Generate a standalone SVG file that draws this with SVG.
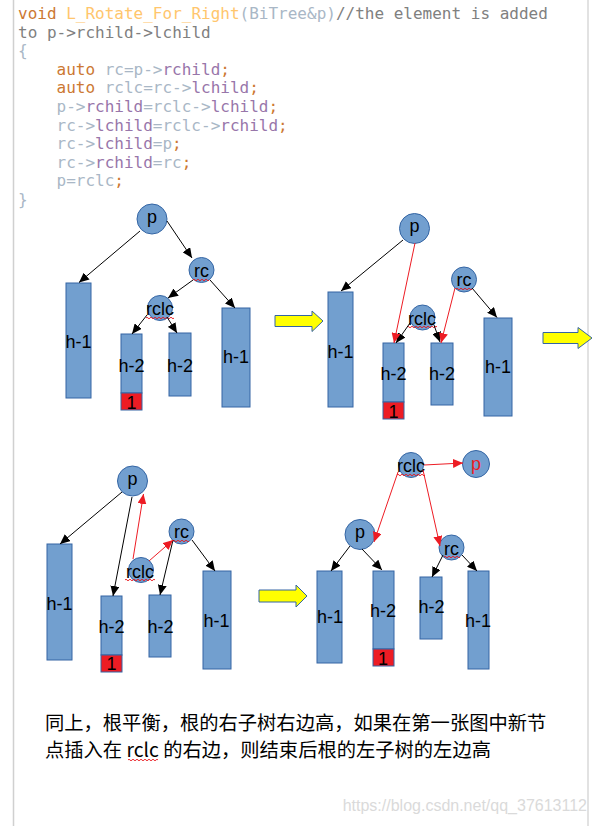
<svg xmlns="http://www.w3.org/2000/svg" width="597" height="826" viewBox="0 0 597 826">
<style>
.n{fill:#729fcf;stroke:#3465a4;stroke-width:1}
.rb{fill:#ed1c24;stroke:#3465a4;stroke-width:1}
.lbl{font-family:"Liberation Sans",Arial,sans-serif;font-size:18px;text-anchor:middle;fill:#000}
.e{stroke:#000;stroke-width:1;fill:none;marker-end:url(#ab)}
.er{stroke:#ed1c24;stroke-width:1;fill:none;marker-end:url(#ar)}
.wv{fill:none;stroke:#e8141b;stroke-width:0.9}
.code{font-family:"DejaVu Sans Mono","Liberation Mono",monospace;font-size:16px}
.k{fill:#cc7832}.f{fill:#ffc66d}.t{fill:#a9b7c6}.c{fill:#808080}.m{fill:#9876aa}
.ya{fill:#ffff00;stroke:#3465a4;stroke-width:1}
.cn{font-family:"Noto Sans CJK SC","Noto Sans",sans-serif;font-size:19.3px;fill:#000}
</style>
<defs>
<marker id="ab" markerUnits="userSpaceOnUse" markerWidth="11" markerHeight="9" refX="10" refY="4.5" orient="auto"><path d="M0,0 L10,4.5 L0,9 z" fill="#000"/></marker>
<marker id="ar" markerUnits="userSpaceOnUse" markerWidth="11" markerHeight="9" refX="10" refY="4.5" orient="auto"><path d="M0,0 L10,4.5 L0,9 z" fill="#ed1c24"/></marker>
</defs>
<rect width="597" height="826" fill="#fff"/>
<line x1="13.5" y1="0" x2="13.5" y2="826" stroke="#d0d0d0" stroke-width="1.5"/>
<line x1="588" y1="0" x2="588" y2="826" stroke="#d8d8d8" stroke-width="1.5"/>

<g id="code" class="code">
<text x="18" y="19"><tspan class="k">void</tspan> <tspan class="f">L_Rotate_For_Right</tspan><tspan class="t">(BiTree&amp;p)</tspan><tspan class="c">//the element is added</tspan></text>
<text x="18" y="37.6" class="c">to p-&gt;rchild-&gt;lchild</text>
<text x="18" y="56.2" class="t">{</text>
<text x="56.5" y="74.8"><tspan class="k">auto</tspan> <tspan class="t">rc=p-&gt;</tspan><tspan class="m">rchild</tspan><tspan class="k">;</tspan></text>
<text x="56.5" y="93.4"><tspan class="k">auto</tspan> <tspan class="t">rclc=rc-&gt;</tspan><tspan class="m">lchild</tspan><tspan class="k">;</tspan></text>
<text x="56.5" y="112"><tspan class="t">p-&gt;</tspan><tspan class="m">rchild</tspan><tspan class="t">=rclc-&gt;</tspan><tspan class="m">lchild</tspan><tspan class="k">;</tspan></text>
<text x="56.5" y="130.6"><tspan class="t">rc-&gt;</tspan><tspan class="m">lchild</tspan><tspan class="t">=rclc-&gt;</tspan><tspan class="m">rchild</tspan><tspan class="k">;</tspan></text>
<text x="56.5" y="149.2"><tspan class="t">rc-&gt;</tspan><tspan class="m">lchild</tspan><tspan class="t">=p</tspan><tspan class="k">;</tspan></text>
<text x="56.5" y="167.8"><tspan class="t">rc-&gt;</tspan><tspan class="m">rchild</tspan><tspan class="t">=rc</tspan><tspan class="k">;</tspan></text>
<text x="56.5" y="186.4"><tspan class="t">p=rclc</tspan><tspan class="k">;</tspan></text>
<text x="18" y="205" class="t">}</text>
</g>

<!-- Diagram 1 -->
<g id="d1-h1L"><rect class="n" x="66" y="283" width="25" height="115"/><text class="lbl" x="78.5" y="348">h-1</text></g>
<g id="d1-h2L"><rect class="n" x="121" y="334" width="21" height="59"/><rect class="rb" x="121" y="393" width="21" height="17"/><text class="lbl" x="131.5" y="371.5">h-2</text><text class="lbl" x="131.5" y="408.5">1</text></g>
<g id="d1-h2M"><rect class="n" x="169" y="333" width="22" height="63"/><text class="lbl" x="180" y="371.5">h-2</text></g>
<g id="d1-h1R"><rect class="n" x="222" y="308" width="28" height="99"/><text class="lbl" x="236" y="363">h-1</text></g>
<g id="d1-p"><circle class="n" cx="152" cy="219" r="15"/><text class="lbl" x="152" y="222.5">p</text></g>
<g id="d1-rc"><circle class="n" cx="201.5" cy="270" r="12.5"/><text class="lbl" x="201.5" y="276.5">rc</text><path class="wv" d="M193,280 q1,-1.6 2,0 t2,0 t2,0 t2,0 t2,0 t2,0 t2,0 t2,0"/></g>
<g id="d1-rclc"><circle class="n" cx="160" cy="308" r="12.5"/><text class="lbl" x="160" y="315">rclc</text><path class="wv" d="M146,318 q1,-1.6 2,0 t2,0 t2,0 t2,0 t2,0 t2,0 t2,0 t2,0 t2,0 t2,0 t2,0 t2,0 t2,0 t2,0"/></g>

<!-- Diagram 2 -->
<g id="d2-h1L"><rect class="n" x="328" y="292" width="25" height="115"/><text class="lbl" x="340.5" y="358">h-1</text></g>
<g id="d2-h2L"><rect class="n" x="383" y="343" width="21" height="59"/><rect class="rb" x="383" y="402" width="21" height="17"/><text class="lbl" x="393.5" y="380">h-2</text><text class="lbl" x="393.5" y="418">1</text></g>
<g id="d2-h2M"><rect class="n" x="431" y="343" width="22" height="62"/><text class="lbl" x="442" y="379.5">h-2</text></g>
<g id="d2-h1R"><rect class="n" x="484" y="318" width="28" height="98"/><text class="lbl" x="498" y="373">h-1</text></g>
<g id="d2-p"><circle class="n" cx="414.5" cy="228.5" r="15"/><text class="lbl" x="414.5" y="232">p</text></g>
<g id="d2-rc"><circle class="n" cx="464" cy="279.5" r="12.5"/><text class="lbl" x="464" y="286">rc</text><path class="wv" d="M456,289 q1,-1.6 2,0 t2,0 t2,0 t2,0 t2,0 t2,0 t2,0 t2,0"/></g>
<g id="d2-rclc"><circle class="n" cx="422.5" cy="317.5" r="12.5"/><text class="lbl" x="422" y="325">rclc</text><path class="wv" d="M407,327 q1,-1.6 2,0 t2,0 t2,0 t2,0 t2,0 t2,0 t2,0 t2,0 t2,0 t2,0 t2,0 t2,0 t2,0 t2,0 t2,0"/></g>

<!-- Diagram 3 -->
<g id="d3-h1L"><rect class="n" x="47" y="544" width="25" height="116"/><text class="lbl" x="59.5" y="610">h-1</text></g>
<g id="d3-h2L"><rect class="n" x="101" y="596" width="21" height="59"/><rect class="rb" x="101" y="655" width="21" height="17"/><text class="lbl" x="111.5" y="633">h-2</text><text class="lbl" x="111.5" y="670">1</text></g>
<g id="d3-h2M"><rect class="n" x="149" y="595" width="22" height="62"/><text class="lbl" x="160.5" y="633">h-2</text></g>
<g id="d3-h1R"><rect class="n" x="203" y="571" width="28" height="98"/><text class="lbl" x="216.5" y="626.5">h-1</text></g>
<g id="d3-p"><circle class="n" cx="132.5" cy="481" r="15"/><text class="lbl" x="132.5" y="484.5">p</text></g>
<g id="d3-rc"><circle class="n" cx="181.5" cy="531.5" r="12.5"/><text class="lbl" x="181.5" y="538">rc</text><path class="wv" d="M173,541 q1,-1.6 2,0 t2,0 t2,0 t2,0 t2,0 t2,0 t2,0 t2,0"/></g>
<g id="d3-rclc"><circle class="n" cx="141" cy="570" r="12.5"/><text class="lbl" x="140" y="577.5">rclc</text><path class="wv" d="M125,580 q1,-1.6 2,0 t2,0 t2,0 t2,0 t2,0 t2,0 t2,0 t2,0 t2,0 t2,0 t2,0 t2,0 t2,0 t2,0 t2,0"/></g>

<!-- Diagram 4 -->
<g id="d4-h1L"><rect class="n" x="317" y="571" width="25" height="92"/><text class="lbl" x="330" y="623">h-1</text></g>
<g id="d4-h2L"><rect class="n" x="373" y="571" width="21" height="78"/><rect class="rb" x="373" y="649" width="21" height="17"/><text class="lbl" x="383" y="616.5">h-2</text><text class="lbl" x="383" y="664.5">1</text></g>
<g id="d4-h2M"><rect class="n" x="420" y="577" width="22" height="62"/><text class="lbl" x="431.5" y="613">h-2</text></g>
<g id="d4-h1R"><rect class="n" x="468" y="571" width="21" height="98"/><text class="lbl" x="478" y="627">h-1</text></g>
<g id="d4-p"><circle class="n" cx="360" cy="534.5" r="15"/><text class="lbl" x="360" y="538">p</text></g>
<g id="d4-rc"><circle class="n" cx="451.5" cy="547.5" r="12.5"/><text class="lbl" x="451.5" y="554.5">rc</text><path class="wv" d="M444,557 q1,-1.6 2,0 t2,0 t2,0 t2,0 t2,0 t2,0 t2,0 t2,0"/></g>
<g id="d4-rclc"><circle class="n" cx="411" cy="465" r="12.5"/><text class="lbl" x="411" y="472">rclc</text><path class="wv" d="M397,475 q1,-1.6 2,0 t2,0 t2,0 t2,0 t2,0 t2,0 t2,0 t2,0 t2,0 t2,0 t2,0 t2,0 t2,0 t2,0"/></g>
<g id="d4-pnew"><circle class="n" cx="476" cy="464" r="13.5"/><text class="lbl" x="476" y="470" fill="#ed1c24" style="fill:#ed1c24">p</text></g>

<!-- yellow transition arrows -->
<g id="arrow1"><polygon class="ya" points="275,315.5 312,315.5 312,311 323,321 312,331.5 312,326.5 275,326.5"/></g>
<g id="arrow2"><polygon class="ya" points="543,332.5 578,332.5 578,327.5 592,338 578,348.5 578,343.5 543,343.5"/></g>
<g id="arrow3"><polygon class="ya" points="259,590 296,590 296,585 307,596 296,607 296,602 259,602"/></g>

<g id="connectors">
<!-- d1 -->
<line class="e" x1="140" y1="231" x2="79" y2="282.5"/>
<line class="e" x1="167" y1="221" x2="192" y2="258"/>
<line class="e" x1="193" y1="280" x2="168" y2="298"/>
<line class="e" x1="210" y1="280" x2="235" y2="308"/>
<line class="e" x1="147" y1="315" x2="132" y2="334"/>
<line class="e" x1="167" y1="317" x2="177" y2="333"/>
<!-- d2 -->
<line class="e" x1="403" y1="240" x2="341" y2="291"/>
<line class="e" x1="410" y1="323" x2="396" y2="343"/>
<line class="e" x1="434" y1="325" x2="440" y2="342"/>
<line class="e" x1="472" y1="288" x2="497" y2="317.5"/>
<line class="er" x1="415" y1="243" x2="394" y2="343"/>
<line class="er" x1="455" y1="288" x2="441" y2="343"/>
<!-- d3 -->
<line class="e" x1="122" y1="492" x2="60" y2="544"/>
<line class="e" x1="132" y1="497" x2="113" y2="596"/>
<line class="e" x1="173" y1="540" x2="160" y2="595"/>
<line class="e" x1="192" y1="540" x2="215" y2="571"/>
<line class="er" x1="133" y1="559" x2="143.5" y2="494"/>
<line class="er" x1="149" y1="561" x2="173" y2="540"/>
<!-- d4 -->
<line class="er" x1="398" y1="472" x2="374" y2="542"/>
<line class="er" x1="424" y1="465" x2="463" y2="463"/>
<line class="er" x1="423" y1="470" x2="440" y2="546"/>
<line class="e" x1="350" y1="546" x2="331" y2="571"/>
<line class="e" x1="362" y1="549" x2="382" y2="570"/>
<line class="e" x1="443" y1="555" x2="432" y2="577"/>
<line class="e" x1="462" y1="555" x2="477" y2="571"/>
</g>

<g id="caption">
<text class="cn" x="45" y="730">同上，根平衡，根的右子树右边高，如果在第一张图中新节</text>
<text class="cn" x="45" y="757">点插入在 rclc 的右边，则结束后根的左子树的左边高</text>
<path class="wv" d="M128,760 q1,-1.6 2,0 t2,0 t2,0 t2,0 t2,0 t2,0 t2,0 t2,0 t2,0 t2,0 t2,0 t2,0 t2,0 t2,0 t2,0"/>
</g>
<text x="587" y="811" text-anchor="end" font-family="Liberation Sans,Arial,sans-serif" font-size="16" fill="#dadada">https://blog.csdn.net/qq_37613112</text>
</svg>
